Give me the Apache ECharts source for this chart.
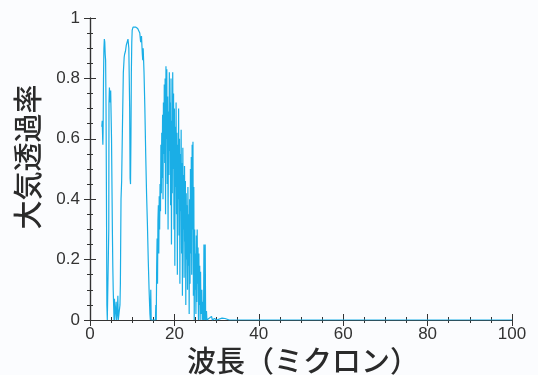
<!DOCTYPE html>
<html><head><meta charset="utf-8">
<script src="https://cdn.jsdelivr.net/npm/echarts@6/dist/echarts.min.js"></script>
<style>html,body{margin:0;padding:0;background:#fbfcfe}#c{width:538px;height:375px}</style>
</head><body><div id="c"></div>
<script>
var wavelength = [2.8,2.9,3.0,3.05,3.1,3.2,3.3,3.4,3.5,3.6,3.7,3.8,3.9,4.0,4.1,4.3,4.4,
4.45,4.5,4.6,4.7,4.8,4.9,5.0,5.1,5.2,5.3,5.4,5.5,5.6,5.7,5.8,5.85,6.0,6.2,6.3,6.5,6.6,6.7,7.0,
7.1,7.2,7.35,7.5,7.7,7.9,8.1,8.2,8.4,8.6,8.8,9.0,9.2,9.4,9.5,9.6,9.7,9.8,9.9,10.0,10.2,10.5,10.8,11.0,11.3,11.5,11.8,12.0,12.2,12.4,12.5,12.6,12.8,13.0,13.2,13.4,13.6,13.8,14.0,14.2,14.3,14.4,14.5,15.0,15.5,
15.6,15.7,15.8,15.9,16.0,16.1,16.2,16.3,16.4,16.5,16.6,16.7,16.8,16.9,17.0,17.1,17.2,17.3,17.4,17.5,17.6,17.7,17.8,17.9,
18.0,18.1,18.2,18.3,18.4,18.5,18.6,18.7,18.8,18.9,19.0,19.1,19.2,19.3,19.4,19.5,19.6,19.7,19.8,19.9,
20.0,20.1,20.2,20.3,20.4,20.5,20.6,20.7,20.8,20.9,21.0,21.1,21.2,21.3,21.4,21.5,21.6,21.7,21.8,21.9,
22.0,22.1,22.2,22.3,22.4,22.5,22.6,22.7,22.8,22.9,23.0,23.1,23.2,23.3,23.4,23.5,23.6,23.7,23.8,23.9,
24.0,24.1,24.2,24.3,24.4,24.5,24.6,24.7,24.8,24.9,25.0,25.1,25.2,25.3,25.4,25.5,25.6,25.7,25.8,25.9,
26.0,26.1,26.2,26.3,26.5,26.6,26.8,26.9,27.0,27.1,27.2,27.3,27.4,27.6,27.7,28.0,28.8,29.0,29.5,30.0,31.3,31.5,32.0,32.2,33.0,100];
var transmittance = [0.64,0.66,0.60,0.58,0.62,0.80,0.90,0.93,0.92,0.88,0.86,0.70,0.40,0.05,0.0,0.0,0.0,
0.30,0.72,0.77,0.74,0.72,0.76,0.68,0.60,0.45,0.30,0.18,0.10,0.05,0.0,0.07,0.0,0.0,0.06,0.0,0.03,0.08,0.0,0.0,
0.05,0.12,0.40,0.46,0.65,0.82,0.87,0.88,0.89,0.91,0.92,0.93,0.90,0.70,0.47,0.45,0.60,0.82,0.92,0.96,0.97,0.975,0.97,0.975,0.965,0.96,0.95,0.92,0.94,0.88,0.86,0.90,0.82,0.70,0.55,0.42,0.32,0.20,0.10,0.02,0.0,0.10,0.0,0.0,0.0,
0.05,0.0,0.18,0.27,0.12,0.33,0.38,0.22,0.41,0.30,0.45,0.36,0.58,0.42,0.62,0.47,0.68,0.40,0.72,0.55,0.78,0.52,0.80,0.35,
0.84,0.60,0.83,0.45,0.74,0.30,0.69,0.48,0.82,0.56,0.72,0.38,0.80,0.25,0.66,0.42,0.82,0.50,0.75,0.30,
0.70,0.18,0.64,0.44,0.72,0.35,0.62,0.15,0.58,0.40,0.70,0.28,0.60,0.12,0.55,0.36,0.63,0.22,0.52,0.08,
0.57,0.30,0.48,0.14,0.51,0.26,0.46,0.05,0.42,0.20,0.38,0.10,0.44,0.18,0.35,0.02,0.40,0.12,0.50,0.22,
0.54,0.15,0.58,0.30,0.59,0.08,0.44,0.00,0.30,0.10,0.22,0.02,0.28,0.06,0.30,0.12,0.24,0.00,0.22,0.05,
0.18,0.0,0.16,0.02,0.10,0.0,0.06,0.0,0.25,0.0,0.08,0.25,0.0,0.03,0.0,0.0,0.012,0.0,0.005,0.0,0.006,0.0,0.005,0.0,0.0,0.0];
var xTicks = [0,20,40,60,80,100];
var yTicks = [0,0.2,0.4,0.6,0.8,1];

var pts = wavelength.map(function(w,i){return [w, transmittance[i]];});
var chart = echarts.init(document.getElementById('c'));
var axisLine = {show:true, lineStyle:{color:'#333', width:1.2}};
var lab = {fontFamily:'Liberation Sans', fontSize:17, color:'#333'};
function tickStyle(){return {show:true, inside:true, length:6, lineStyle:{color:'#333', width:1}};}
function minorStyle(){return {show:true, splitNumber:4, length:3, lineStyle:{color:'#333', width:1}};}
chart.setOption({
  backgroundColor:'#fbfcfe',
  animation:false,
  grid:{left:90, right:26, top:18, bottom:55, containLabel:false, outerBoundsMode:'none'},
  xAxis:[{type:'value', min:xTicks[0], max:xTicks[xTicks.length-1], interval:xTicks[1]-xTicks[0],
    name:'波長（ミクロン）', nameLocation:'middle', nameGap:26, nameMoveOverlap:false,
    nameTextStyle:{fontFamily:'Noto Sans CJK JP', fontSize:29, fontWeight:500, color:'#2a2a2a', padding:[0,0,0,4]},
    axisLine:axisLine, axisTick:tickStyle(), minorTick:minorStyle(), splitLine:{show:false},
    axisLabel:Object.assign({margin:6}, lab)},
   {type:'value', position:'top', min:xTicks[0], max:xTicks[xTicks.length-1], interval:xTicks[1]-xTicks[0],
    axisLine:axisLine, axisTick:tickStyle(), minorTick:minorStyle(), splitLine:{show:false}, axisLabel:{show:false}}],
  yAxis:[{type:'value', min:yTicks[0], max:yTicks[yTicks.length-1], interval:yTicks[1]-yTicks[0],
    name:'大気透過率', nameLocation:'middle', nameGap:48, nameRotate:90, nameMoveOverlap:false,
    nameTextStyle:{fontFamily:'Noto Sans CJK JP', fontSize:29, fontWeight:500, color:'#2a2a2a', padding:[0,0,0,24], lineHeight:29},
    axisLine:axisLine, axisTick:tickStyle(), minorTick:minorStyle(), splitLine:{show:false},
    axisLabel:Object.assign({margin:10}, lab)},
   {type:'value', position:'right', min:yTicks[0], max:yTicks[yTicks.length-1], interval:yTicks[1]-yTicks[0],
    axisLine:axisLine, axisTick:tickStyle(), minorTick:minorStyle(), splitLine:{show:false}, axisLabel:{show:false}}],
  series:[{type:'line', data:pts, showSymbol:false, symbol:'none', clip:true,
    lineStyle:{color:'#1aaee6', width:1.2}, itemStyle:{color:'#1aaee6'}}]
});
</script></body></html>
